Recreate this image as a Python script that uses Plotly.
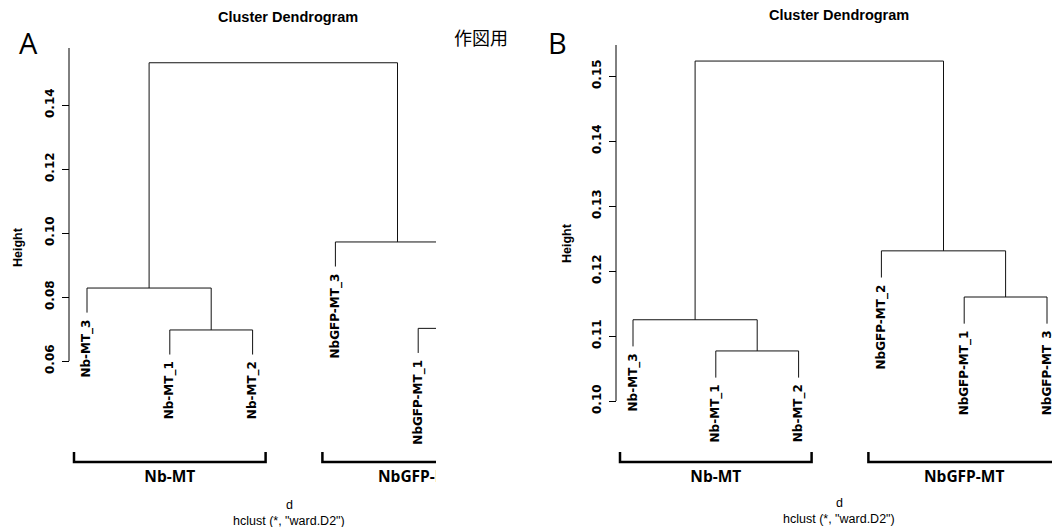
import plotly.graph_objects as go

W, H = 1052, 527

# ---------------- data ----------------
# Panel A (leaf order as drawn; NbGFP-MT_2 lies beyond the cropped edge)
a_labels = ["Nb-MT_3", "Nb-MT_1", "Nb-MT_2", "NbGFP-MT_3", "NbGFP-MT_1", "NbGFP-MT_2"]
a_merge = [[-2, -3], [-5, -6], [-1, 1], [-4, 2], [3, 4]]
a_height = [0.0697, 0.0702, 0.0828, 0.0972, 0.1532]
a_ticks = [0.06, 0.08, 0.10, 0.12, 0.14]

# Panel B
b_labels = ["Nb-MT_3", "Nb-MT_1", "Nb-MT_2", "NbGFP-MT_2", "NbGFP-MT_1", "NbGFP-MT_3"]
b_merge = [[-2, -3], [-5, -6], [-1, 1], [-4, 2], [3, 4]]
b_height = [0.1077, 0.1160, 0.1125, 0.1231, 0.1523]
b_ticks = [0.10, 0.11, 0.12, 0.13, 0.14, 0.15]

group_names = ["Nb-MT", "NbGFP-MT"]
group_first = [1, 4]
group_last = [3, 6]

HANG = 0.092

# ---------------- panel geometry (pixels) ----------------
panels = [
    dict(name="A", labels=a_labels, merge=a_merge, height=a_height, ticks=a_ticks,
         xa="x", ya="y", axis_px=69, dom_l=60, dom_r=436, leaf1=87, step=82.8,
         t0=0.06, t0_px=361, ppu=3200, axis_top_px=48,
         title_px=(288, 17), sub_px=(289, 505), height_px=(18, 247), letter_px=(28, 43)),
    dict(name="B", labels=b_labels, merge=b_merge, height=b_height, ticks=b_ticks,
         xa="x2", ya="y2", axis_px=616, dom_l=605, dom_r=1052, leaf1=633, step=82.8,
         t0=0.10, t0_px=401, ppu=6500, axis_top_px=45,
         title_px=(839, 15), sub_px=(839, 503), height_px=(567, 243), letter_px=(557, 43)),
]

BRACKET_TOP_PX = 452
BRACKET_BOT_PX = 462
GROUP_LABEL_PX = 478
BRACKET_PAD_PX = 13

fig = go.Figure()
annotations = []
shapes = []
layout_axes = {}


def dendro(merge, height, hang):
    rng = max(height) - min(height)
    hv = hang * rng
    node_x = []
    xs, ys = [], []
    leaf_bottom = {}
    for k, (a, b) in enumerate(merge):
        h = height[k]
        pts = []
        for c in (a, b):
            if c < 0:
                x = -c
                yl = h - hv
                leaf_bottom[-c] = yl
            else:
                x = node_x[c - 1]
                yl = height[c - 1]
            pts.append((x, yl))
        (x1, y1), (x2, y2) = pts
        xs += [x1, x1, x2, x2, None]
        ys += [y1, h, h, y2, None]
        node_x.append((x1 + x2) / 2)
    return xs, ys, leaf_bottom


for i, p in enumerate(panels):
    px2x = lambda px, p=p: 1 + (px - p["leaf1"]) / p["step"]
    px2y = lambda py, p=p: p["t0"] + (p["t0_px"] - py) / p["ppu"]

    xs, ys, leaf_bottom = dendro(p["merge"], p["height"], HANG)
    fig.add_trace(go.Scatter(x=xs, y=ys, mode="lines", xaxis=p["xa"], yaxis=p["ya"],
                             line=dict(color="#111111", width=1), hoverinfo="skip",
                             showlegend=False, cliponaxis=True))

    # leaf labels
    for j, lab in enumerate(p["labels"]):
        leaf = j + 1
        annotations.append(dict(
            x=leaf, y=leaf_bottom[leaf], xref=p["xa"], yref=p["ya"], text=lab,
            textangle=-90, showarrow=False, xanchor="center", yanchor="top", yshift=-5,
            font=dict(family="DejaVu Sans", size=12, color="black", weight="bold")))

    # group brackets
    pad = BRACKET_PAD_PX / p["step"]
    yt, yb = px2y(BRACKET_TOP_PX), px2y(BRACKET_BOT_PX)
    bx, by, tx, ty = [], [], [], []
    for g, f, l in zip(group_names, group_first, group_last):
        x0, x1 = f - pad, l + pad
        bx += [x0, x0, x1, x1, None]
        by += [yt, yb, yb, yt, None]
        tx.append((x0 + x1) / 2)
        ty.append(px2y(GROUP_LABEL_PX))
    fig.add_trace(go.Scatter(x=bx, y=by, mode="lines", xaxis=p["xa"], yaxis=p["ya"],
                             line=dict(color="black", width=2.5), hoverinfo="skip",
                             showlegend=False, cliponaxis=True))
    fig.add_trace(go.Scatter(x=tx, y=ty, mode="text", text=group_names, xaxis=p["xa"],
                             yaxis=p["ya"], textposition="middle center",
                             textfont=dict(family="Open Sans", size=15.5, color="black",
                                           weight="bold"),
                             hoverinfo="skip", showlegend=False, cliponaxis=True))

    # axes
    xkey = "xaxis" if i == 0 else "xaxis2"
    ykey = "yaxis" if i == 0 else "yaxis2"
    layout_axes[xkey] = dict(domain=[p["dom_l"] / W, p["dom_r"] / W],
                             range=[px2x(p["dom_l"]), px2x(p["dom_r"])],
                             visible=False, anchor=p["ya"], fixedrange=True)
    layout_axes[ykey] = dict(domain=[0, 1], range=[px2y(H), px2y(0)],
                             anchor="free", position=p["axis_px"] / W,
                             tickvals=p["ticks"], ticktext=[f"{t:.2f}" for t in p["ticks"]],
                             tickangle=-90, ticks="outside", ticklen=7, tickwidth=1,
                             tickcolor="black", showline=False, showgrid=False,
                             zeroline=False, fixedrange=True, ticklabelstandoff=3,
                             tickfont=dict(family="DejaVu Sans", size=12, color="black",
                                           weight="bold"))
    shapes.append(dict(type="line", xref="paper", yref=p["ya"],
                       x0=p["axis_px"] / W, x1=p["axis_px"] / W,
                       y0=p["ticks"][0], y1=px2y(p["axis_top_px"]),
                       line=dict(color="black", width=1)))

    # text annotations
    tx_, ty_ = p["title_px"]
    annotations.append(dict(x=tx_ / W, y=1 - ty_ / H, xref="paper", yref="paper",
                            text="Cluster Dendrogram", showarrow=False,
                            xanchor="center", yanchor="middle",
                            font=dict(family="Liberation Sans", size=14.5, color="black",
                                      weight="bold")))
    sx, sy = p["sub_px"]
    annotations.append(dict(x=sx / W, y=1 - sy / H, xref="paper", yref="paper",
                            text="d", showarrow=False, xanchor="center", yanchor="middle",
                            font=dict(family="Liberation Sans", size=12.5, color="black")))
    annotations.append(dict(x=sx / W, y=1 - (sy + 16) / H, xref="paper", yref="paper",
                            text='hclust (*, "ward.D2")', showarrow=False,
                            xanchor="center", yanchor="middle",
                            font=dict(family="Liberation Sans", size=12.5, color="black")))
    hx, hy = p["height_px"]
    annotations.append(dict(x=hx / W, y=1 - hy / H, xref="paper", yref="paper",
                            text="Height", textangle=-90, showarrow=False,
                            xanchor="center", yanchor="middle",
                            font=dict(family="Liberation Sans", size=12.5, color="black",
                                      weight="bold")))
    lx, ly = p["letter_px"]
    annotations.append(dict(x=lx / W, y=1 - ly / H, xref="paper", yref="paper",
                            text=p["name"], showarrow=False,
                            xanchor="center", yanchor="middle",
                            font=dict(family="Open Sans", size=29, color="black")))

annotations.append(dict(x=481 / W, y=1 - 37 / H, xref="paper", yref="paper",
                        text="作図用", showarrow=False, xanchor="center", yanchor="middle",
                        font=dict(family="Noto Sans CJK JP", size=18, color="black")))

fig.update_layout(width=W, height=H, margin=dict(l=0, r=0, t=0, b=0),
                  paper_bgcolor="white", plot_bgcolor="white",
                  annotations=annotations, shapes=shapes, showlegend=False,
                  **layout_axes)

fig.write_html("out.html", config={"displayModeBar": False},
               post_script="document.body.style.margin='0';"
                           "document.body.style.overflow='hidden';")
